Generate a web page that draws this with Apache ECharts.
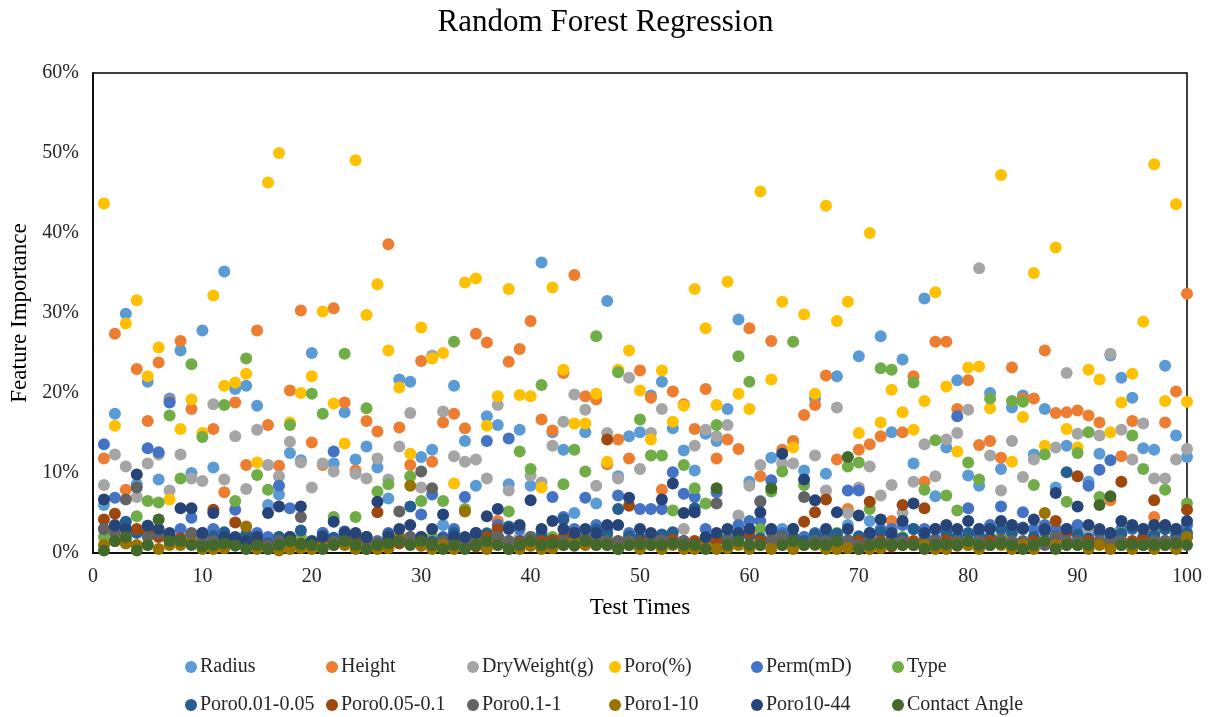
<!DOCTYPE html>
<html>
<head>
<meta charset="utf-8">
<script src="https://cdn.jsdelivr.net/npm/echarts@6/dist/echarts.min.js"></script>
<style>html,body{margin:0;padding:0;background:#fff}#c{width:1211px;height:717px}</style>
</head>
<body>
<div id="c"></div>
<script>
// Test index 1..100
const testTimes = Array.from({length:100},(_,k)=>k+1);
const yTicks = [0,10,20,30,40,50,60];
const seriesNames = ['Radius','Height','DryWeight(g)','Poro(%)','Perm(mD)','Type','Poro0.01-0.05','Poro0.05-0.1','Poro0.1-1','Poro1-10','Poro10-44','Contact Angle'];
const seriesColors = ['#5B9BD5','#ED7D31','#A5A5A5','#FFC000','#4472C4','#70AD47','#255E91','#9E480E','#636363','#997300','#264478','#43682B'];

// values in %
const radius = [6.0,17.4,29.9,8.6,21.4,9.2,19.3,25.3,10.0,27.8, 10.7,35.2,20.5,20.9,18.4,6.0,7.3,12.5,11.6,25.0, 2.5,11.2,17.6,11.7,13.3,10.7,6.8,21.7,21.4,12.0, 12.9,3.5,20.9,14.0,8.4,17.1,16.0,8.6,15.4,8.4, 36.3,15.1,12.9,5.0,15.1,6.2,31.5,9.6,14.6,15.1, 19.7,21.4,15.6,12.8,10.3,14.9,14.0,18.0,29.2,8.9, 6.5,11.9,3.0,13.9,10.3,19.3,9.9,22.1,3.5,24.6, 4.0,27.1,15.1,24.2,11.2,31.8,7.1,13.2,21.6,9.7, 8.4,20.0,10.5,18.2,19.7,12.3,18.0,8.2,13.4,3.0, 8.9,12.4,24.7,21.9,19.4,13.1,12.9,23.4,14.7,12.0];
const height = [11.8,27.4,7.9,23.0,16.5,23.8,19.0,26.5,18.0,2.0, 15.5,7.6,18.8,11.0,27.8,16.0,10.9,20.3,30.3,13.8, 11.0,30.6,18.8,10.3,16.5,15.2,38.6,15.7,11.0,24.0, 11.4,16.3,17.4,15.6,27.4,26.3,4.0,23.9,25.5,29.0, 16.7,15.3,22.5,34.75,19.6,19.2,11.1,14.2,11.8,22.8, 19.4,7.9,20.2,18.6,15.5,20.5,11.8,14.2,13.0,28.1, 9.6,26.5,12.9,14.0,17.25,18.5,22.2,11.7,5.5,12.9, 13.6,14.6,4.0,15.1,22.1,8.9,26.4,26.4,18.0,21.6, 13.5,14.0,11.9,23.2,19.3,19.3,25.3,17.5,17.6,17.8, 17.2,16.3,6.6,12.1,16.5,2.0,4.5,16.3,20.2,32.4];
const dryWeight = [8.5,12.3,10.8,7.0,11.2,12.3,7.8,12.3,9.3,9.0, 18.6,9.2,14.6,8.0,15.4,11.0,9.6,13.9,11.3,8.2, 11.2,10.2,1.5,9.9,9.3,11.8,9.2,13.3,17.5,8.2, 24.7,17.7,12.1,11.4,11.7,9.3,18.5,7.8,2.0,9.7, 8.8,13.4,16.4,19.8,17.9,8.4,15.0,9.3,21.9,10.5, 15.0,18.0,2.0,3.0,13.4,15.4,14.6,16.0,4.7,8.4, 11.0,3.0,11.2,11.2,2.0,12.2,7.8,18.2,5.0,8.2, 10.8,7.2,8.5,5.0,8.9,13.6,9.6,14.2,15.0,17.9, 35.6,12.2,7.8,14.0,9.5,11.7,3.0,13.2,22.5,14.9, 2.5,14.7,24.9,15.4,11.7,16.2,9.3,9.3,11.7,13.0];
const poro = [43.7,15.9,28.7,31.6,22.1,25.7,6.7,15.5,19.2,15.0, 32.2,20.9,21.3,22.4,11.3,46.3,50.0,16.3,20.0,22.1, 30.2,18.7,13.7,49.1,29.75,33.6,25.3,20.7,12.4,28.2, 24.3,25.0,8.7,33.8,34.3,15.9,19.6,33.0,19.75,19.6, 8.2,33.2,22.9,16.2,16.2,19.9,11.4,22.9,25.3,20.3, 14.2,22.8,16.4,18.4,33.0,28.1,18.5,33.9,19.9,18.0, 45.2,21.7,31.4,13.2,29.8,19.9,43.4,29.0,31.4,15.0, 40.0,16.3,20.4,17.6,15.4,19.0,32.6,20.8,12.7,23.2, 23.3,18.1,47.25,11.4,17.0,35.0,13.4,38.2,15.5,13.2, 22.9,21.7,15.1,18.8,22.4,28.9,48.6,19.0,43.6,18.9];
const perm = [13.6,6.9,3.0,2.5,13.1,12.6,18.8,3.0,4.4,2.5, 3.0,1.5,5.4,1.5,2.5,2.0,8.4,5.6,1.5,1.0, 2.5,12.7,2.0,2.0,2.0,1.5,2.5,2.0,2.0,4.8, 7.3,2.0,3.0,7.0,2.5,14.0,3.5,14.3,3.0,2.0, 2.5,7.0,4.5,3.0,6.9,3.5,3.0,7.2,2.5,5.5, 5.5,5.5,10.1,7.4,7.0,3.0,7.6,2.5,3.5,4.0, 4.0,9.1,2.5,3.0,2.0,2.5,2.5,2.0,7.8,7.8, 2.5,3.0,3.0,3.5,3.0,3.0,3.0,3.0,17.1,5.6, 3.0,3.5,5.8,3.0,5.1,3.0,3.5,3.0,3.0,3.5, 8.4,10.4,11.6,3.0,3.0,3.0,2.5,3.0,3.0,3.5];
const type = [2.0,1.5,2.0,4.6,6.5,6.3,17.2,9.3,23.6,14.5, 1.5,18.5,6.5,24.3,9.75,7.9,2.0,16.0,2.0,19.9, 17.4,4.5,24.9,4.5,18.1,7.7,8.6,2.0,9.6,6.5, 2.0,6.5,26.4,5.5,2.0,2.5,2.0,5.2,12.7,10.5, 21.0,2.0,8.6,12.9,10.2,27.1,2.0,22.6,2.0,16.7, 12.2,12.2,5.3,11.0,8.1,6.2,16.0,2.5,24.6,21.4, 3.0,7.7,10.2,26.4,8.5,2.0,2.0,2.5,10.8,11.3, 5.5,23.1,22.9,2.0,21.3,7.9,14.1,7.2,5.3,11.3, 9.2,19.3,2.0,19.0,18.9,8.5,12.3,2.0,6.4,12.5, 15.1,7.0,2.5,2.5,14.7,10.5,3.0,7.9,2.5,6.2];
const poro001_005 = [3.0,3.5,3.9,2.6,3.4,2.5,2.2,1.8,2.4,1.3, 2.1,2.6,1.7,2.3,1.5,1.2,2.0,1.6,2.8,1.4, 2.2,1.9,2.7,2.0,1.5,1.1,2.3,1.6,5.8,2.0, 1.4,1.8,2.5,1.3,1.7,2.4,2.1,3.3,1.5,1.2, 2.0,1.6,4.2,2.2,1.8,2.9,2.5,5.5,2.1,1.9, 1.4,2.3,2.6,1.5,5.6,1.3,2.0,1.7,2.4,2.2, 1.8,2.7,2.1,2.0,1.5,2.3,1.9,2.4,1.6,2.1, 2.0,2.6,2.2,1.8,3.0,2.3,1.7,2.4,2.0,2.5, 2.2,1.9,3.0,2.5,3.2,2.0,2.7,2.1,10.1,2.3, 1.8,2.6,2.0,2.4,3.2,1.9,2.2,3.0,2.1,2.5];
const poro005_01 = [4.2,4.9,1.5,3.0,2.7,2.0,1.6,1.8,1.3,2.2, 5.4,0.9,3.8,1.4,1.7,0.8,1.1,0.7,1.2,0.9, 1.5,1.1,1.6,1.4,2.0,5.1,0.8,1.2,1.5,0.9, 1.1,0.7,1.6,1.0,0.8,2.0,3.0,1.5,1.3,0.9, 1.5,1.6,2.0,2.5,1.1,1.4,14.2,1.5,5.9,1.3, 2.0,1.5,1.7,0.9,1.5,1.0,1.5,0.8,1.4,2.5, 1.5,1.6,1.3,1.5,3.9,5.1,6.7,1.5,1.0,1.5, 6.4,1.5,0.8,6.0,1.5,5.6,1.4,1.6,0.9,1.5, 1.1,1.5,1.6,1.3,0.9,1.5,1.5,4.0,2.5,9.6, 1.5,1.4,0.9,8.9,1.5,1.6,6.6,1.5,1.0,5.4];
const poro01_1 = [3.0,2.5,6.7,8.2,2.0,2.5,1.5,1.4,2.5,2.0, 1.5,1.6,1.3,1.0,1.1,0.9,1.5,2.0,4.5,1.0, 1.5,1.4,1.6,1.0,1.5,1.3,1.5,5.2,2.0,10.2, 8.1,1.5,1.0,1.1,1.5,1.0,2.0,1.5,1.0,2.0, 1.0,1.2,1.5,1.0,2.0,2.0,1.5,1.4,1.5,1.0, 1.5,1.6,1.3,1.5,1.0,1.5,6.2,1.5,2.0,1.0, 6.4,1.5,2.0,1.0,7.0,1.5,1.5,1.0,1.5,1.0, 1.5,1.0,1.5,1.5,1.0,1.5,1.5,1.0,1.5,1.0, 1.5,1.0,1.5,1.5,1.5,1.0,1.0,2.0,1.5,1.5, 1.0,1.5,1.5,1.5,1.0,1.0,1.5,1.5,1.5,2.0];
const poro1_10 = [1.0,1.5,1.2,1.0,1.0,0.5,1.0,1.0,1.2,0.5, 0.5,0.6,1.0,3.3,0.5,0.5,0.3,0.5,0.6,0.5, 1.0,1.0,1.0,0.5,0.5,0.5,0.6,2.0,8.4,1.0, 0.5,1.0,0.5,5.2,1.0,0.5,1.0,0.5,0.5,1.0, 0.5,0.6,1.0,1.5,1.0,1.0,1.0,0.5,1.0,0.5, 1.0,0.5,1.0,0.5,0.5,1.0,0.5,0.6,1.0,0.5, 1.0,0.5,1.0,0.5,1.0,1.0,0.5,0.5,0.6,0.5, 0.5,0.6,1.0,1.0,1.0,1.0,0.5,0.5,1.0,1.0, 0.5,1.0,1.0,0.5,1.0,0.5,5.0,1.0,1.0,1.0, 0.5,1.0,0.5,1.0,0.5,1.0,0.5,1.0,0.5,2.0];
const poro10_44 = [6.7,3.4,3.0,9.8,3.4,3.0,2.5,5.6,5.6,2.5, 5.0,2.0,2.0,1.5,2.0,5.0,5.8,2.0,5.8,1.5, 2.0,3.9,2.5,2.5,2.0,6.4,2.0,3.0,3.5,2.0, 3.0,4.8,2.0,2.0,2.5,4.6,5.5,3.0,3.5,6.6, 3.0,4.0,3.0,2.5,3.0,2.5,3.5,3.5,6.9,3.0, 2.5,6.7,8.7,5.0,5.1,2.0,2.5,3.0,2.5,3.0, 5.1,3.0,12.4,3.0,9.2,6.6,3.0,5.1,3.0,4.7, 2.5,4.2,2.5,4.0,6.2,2.5,3.0,3.5,3.0,4.0, 3.0,3.0,4.0,3.5,3.0,4.2,3.0,7.5,3.0,5.8, 3.5,3.0,2.5,4.0,3.5,3.0,3.5,3.5,3.0,4.0];
const contactAngle = [0.3,1.5,2.0,0.3,1.0,4.2,1.5,1.5,1.0,0.8, 1.0,1.2,0.9,0.5,1.0,0.5,1.0,1.5,1.1,1.0, 0.5,1.0,1.5,1.0,0.5,1.0,1.2,1.5,1.0,1.5, 1.0,0.5,1.0,0.5,1.0,1.5,1.0,0.5,1.0,1.5, 1.0,1.2,1.0,0.9,1.5,1.0,1.0,0.5,1.0,1.1, 1.0,1.0,1.2,1.0,1.0,0.5,8.1,1.0,1.5,1.0, 1.0,8.1,1.0,1.5,1.0,1.1,1.0,1.5,12.0,0.5, 1.0,1.2,1.0,1.0,1.0,0.5,1.0,1.1,1.0,1.5, 1.0,1.0,1.2,1.0,0.5,1.0,1.5,0.5,1.0,1.0, 1.0,6.0,7.1,1.0,1.1,1.0,1.0,1.0,1.2,1.0];

const seriesValues = [radius,height,dryWeight,poro,perm,type,poro001_005,poro005_01,poro01_1,poro1_10,poro10_44,contactAngle];

const font = 'Liberation Serif, Times New Roman, serif';
const chart = echarts.init(document.getElementById('c'), null, {renderer:'canvas'});

// one legend per item, arranged in a 6x2 grid
const legendCols = [185,326,467,609,751,892];
const legendRows = [657,695];
const legends = seriesNames.map((n,s)=>({
  orient:'horizontal', left:legendCols[s%6], top:legendRows[Math.floor(s/6)], padding:0,
  itemWidth:12, itemHeight:12, icon:'circle', data:[n],
  textStyle:{fontFamily:font, fontSize:20, color:'#262626', padding:[0,0,0,-2]},
  selectedMode:false
}));

chart.setOption({
  animation:false,
  color: seriesColors,
  title:{text:'Random Forest Regression', left:'center', top:2,
    textStyle:{fontFamily:font, fontSize:31, fontWeight:'normal', color:'#000'}},
  grid:{left:93, right:24, top:73, bottom:164, show:true, borderColor:'#000', borderWidth:1.5, backgroundColor:'transparent'},
  legend: legends,
  xAxis:{type:'value', min:0, max:100, interval:10,
    name:'Test Times', nameLocation:'middle', nameGap:43,
    nameTextStyle:{fontFamily:font, fontSize:23, color:'#000'},
    axisLine:{lineStyle:{color:'#000', width:1.5}}, axisTick:{show:false},
    splitLine:{show:false},
    axisLabel:{fontFamily:font, fontSize:20, color:'#262626', margin:14}},
  yAxis:{type:'value', min:0, max:60, interval:10,
    name:'Feature Importance', nameLocation:'middle', nameGap:61, nameRotate:90,
    nameTextStyle:{fontFamily:font, fontSize:23, color:'#000'},
    axisLine:{show:true, lineStyle:{color:'#000', width:1.5}}, axisTick:{show:false},
    splitLine:{show:false},
    axisLabel:{fontFamily:font, fontSize:20, color:'#262626', margin:14,
      formatter:v=> yTicks.indexOf(v)>=0 ? v+'%' : ''}},
  series: seriesNames.map((n,s)=>({
    name:n, type:'scatter', symbol:'circle', symbolSize:12,
    itemStyle:{color:seriesColors[s], opacity:1},
    data: testTimes.map((t,k)=>[t, seriesValues[s][k]])
  }))
});
</script>
</body>
</html>
